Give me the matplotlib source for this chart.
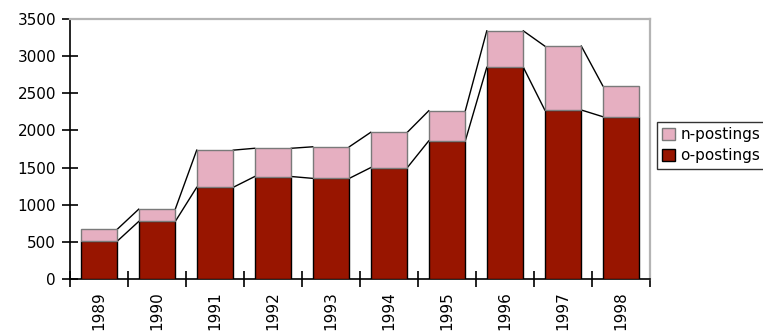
import numpy as np
import matplotlib.pyplot as plt
from matplotlib.ticker import FixedLocator, MultipleLocator

years = ["1989", "1990", "1991", "1992", "1993", "1994", "1995", "1996", "1997", "1998"]
o_postings = [510, 775, 1235, 1380, 1355, 1500, 1860, 2850, 2275, 2185]
n_postings = [160, 165, 500, 380, 425, 475, 405, 490, 860, 415]

dark_red = "#981500"
pink = "#e6afc1"
width = 0.63

fig = plt.figure(figsize=(7.63, 3.33), dpi=100)
ax = fig.add_axes([0.0917, 0.162, 0.7603, 0.781])

x = np.arange(len(years))
o = np.array(o_postings)
n = np.array(n_postings)

ax.bar(x, o, width, color=dark_red, edgecolor="black", linewidth=1.0,
       label="o-postings", zorder=3)
ax.bar(x, n, width, bottom=o, color=pink, edgecolor="#7a7a7a", linewidth=1.0,
       label="n-postings", zorder=3)

# series lines between neighbouring bar tops
for top in (o, o + n):
    for i in range(len(x) - 1):
        ax.plot([x[i] + width / 2, x[i + 1] - width / 2], [top[i], top[i + 1]],
                color="black", linewidth=1.0, zorder=2)

ax.set_xlim(-0.5, len(years) - 0.5)
ax.set_ylim(0, 3500)
ax.yaxis.set_major_locator(MultipleLocator(500))

ax.set_xticks(x)
ax.set_xticklabels(years, rotation=90, va="top", ha="center")
ax.xaxis.set_minor_locator(FixedLocator(np.arange(-0.5, len(years), 1.0)))
ax.tick_params(axis="x", which="major", length=0, pad=9, labelsize=11)
ax.tick_params(axis="x", which="minor", direction="inout", length=12, width=1.2)
ax.tick_params(axis="y", direction="inout", length=12, width=1.2, labelsize=11, pad=4)

for side in ("top", "right"):
    ax.spines[side].set_color("#b4b4b4")
    ax.spines[side].set_linewidth(1.6)
for side in ("left", "bottom"):
    ax.spines[side].set_color("black")
    ax.spines[side].set_linewidth(1.2)

handles, labels = ax.get_legend_handles_labels()
leg = fig.legend(handles[::-1], labels[::-1], loc="upper left",
                 bbox_to_anchor=(0.861, 0.634), fontsize=11, frameon=True,
                 fancybox=False, edgecolor="black", handlelength=0.8,
                 handleheight=0.8, handletextpad=0.4, borderpad=0.35,
                 labelspacing=0.4, borderaxespad=0)
leg.get_frame().set_linewidth(1.0)

fig.savefig("out.png", dpi=100)
